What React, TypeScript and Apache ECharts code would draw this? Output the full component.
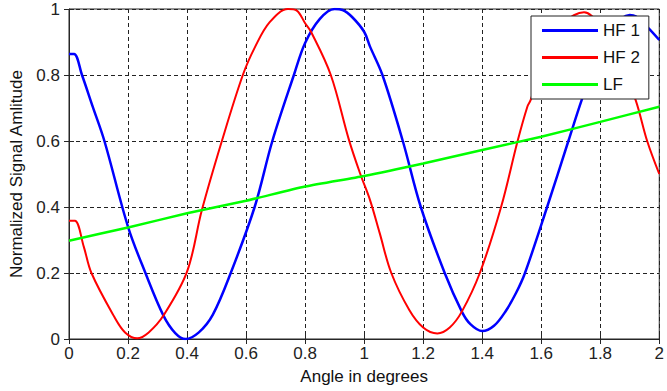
import React, { useEffect, useRef } from "react";
import * as echarts from "echarts";

const seriesNames = ["HF 1", "HF 2", "LF"];

const hf1X = [0, 0.017, 0.044, 0.08, 0.12, 0.2, 0.259, 0.32, 0.36, 0.395, 0.44, 0.487, 0.548, 0.629, 0.689, 0.762, 0.8, 0.85, 0.9, 0.927, 0.96, 1.0, 1.02, 1.062, 1.131, 1.192, 1.273, 1.331, 1.36, 1.4, 1.44, 1.48, 1.515, 1.545, 1.62, 1.692, 1.737, 1.78, 1.84, 1.9, 1.92, 1.96, 2.0];
const hf1Y = [0.864, 0.864, 0.8, 0.705, 0.6, 0.34, 0.2, 0.071, 0.018, 0.0, 0.02, 0.073, 0.2, 0.4, 0.6, 0.8, 0.897, 0.97, 1.0, 0.997, 0.975, 0.931, 0.886, 0.8, 0.6, 0.4, 0.2, 0.083, 0.045, 0.024, 0.04, 0.085, 0.14, 0.2, 0.4, 0.6, 0.724, 0.83, 0.94, 0.982, 0.978, 0.945, 0.906];

const hf2X = [0, 0.02, 0.05, 0.076, 0.153, 0.19, 0.231, 0.27, 0.32, 0.4, 0.45, 0.518, 0.589, 0.631, 0.68, 0.742, 0.772, 0.8, 0.82, 0.887, 0.948, 0.987, 1.02, 1.053, 1.092, 1.153, 1.2, 1.248, 1.29, 1.331, 1.392, 1.464, 1.52, 1.553, 1.564, 1.62, 1.68, 1.745, 1.8, 1.86, 1.92, 1.959, 2.0];
const hf2Y = [0.358, 0.358, 0.28, 0.2, 0.068, 0.02, 0.002, 0.02, 0.071, 0.204, 0.39, 0.6, 0.8, 0.886, 0.96, 1.0, 0.995, 0.957, 0.931, 0.8, 0.605, 0.5, 0.421, 0.32, 0.2, 0.088, 0.035, 0.017, 0.035, 0.083, 0.2, 0.4, 0.6, 0.704, 0.724, 0.87, 0.96, 0.99, 0.95, 0.86, 0.724, 0.6, 0.5];

const lfX = [0, 0.2, 0.4, 0.6, 0.8, 1.0, 1.2, 1.4, 1.6, 1.8, 2.0];
const lfY = [0.298, 0.338, 0.381, 0.419, 0.462, 0.494, 0.532, 0.573, 0.613, 0.658, 0.704];

const xTicks = { min: 0, max: 2, interval: 0.2 };
const yTicks = { min: 0, max: 1, interval: 0.2 };

const FONT = "'Liberation Sans', Arial, sans-serif";

function pairs(xs: number[], ys: number[]) {
  return xs.map((x, i) => [x, ys[i]]);
}

export default function App() {
  const ref = useRef<HTMLDivElement>(null);
  useEffect(() => {
    if (!ref.current) return;
    const chart = echarts.init(ref.current, null, { renderer: "svg" });
    const axisColor = "#262626";
    const grid = { type: [4, 3], color: "#222", width: 1 };
    chart.setOption({
      animation: false,
      backgroundColor: "#fff",
      grid: {
        left: 64,
        right: 3,
        top: 9,
        bottom: 52,
        show: true,
        borderColor: axisColor,
        borderWidth: 1,
        backgroundColor: "#fff",
      },
      legend: {
        orient: "vertical",
        left: 531,
        top: 16,
        icon: "rect",
        itemWidth: 56,
        itemHeight: 3,
        itemGap: 10,
        padding: [6, 9, 6, 11],
        borderColor: "#222",
        borderWidth: 1,
        backgroundColor: "#fff",
        textStyle: { fontFamily: FONT, fontSize: 17, color: "#111" },
        data: seriesNames,
      },
      xAxis: [
        {
          type: "value",
          ...xTicks,
          name: "Angle in degrees",
          nameLocation: "middle",
          nameGap: 29,
          nameTextStyle: { fontFamily: FONT, fontSize: 17, color: "#111" },
          axisLine: { show: true, lineStyle: { color: axisColor, width: 1 } },
          axisTick: { show: true, inside: true, length: 5, lineStyle: { color: axisColor } },
          axisLabel: { fontFamily: FONT, fontSize: 17, color: "#222", margin: 6 },
          splitLine: { show: true, lineStyle: grid },
        },
        {
          type: "value",
          position: "top",
          ...xTicks,
          axisLine: { show: false },
          axisTick: { show: true, inside: true, length: 5, lineStyle: { color: axisColor } },
          axisLabel: { show: false },
          splitLine: { show: false },
        },
      ],
      yAxis: [
        {
          type: "value",
          ...yTicks,
          name: "Normalized Signal Amlitude",
          nameLocation: "middle",
          nameGap: 44,
          nameTextStyle: { fontFamily: FONT, fontSize: 17, color: "#111" },
          axisLine: { show: true, lineStyle: { color: axisColor, width: 1 } },
          axisTick: { show: true, inside: true, length: 5, lineStyle: { color: axisColor } },
          axisLabel: { fontFamily: FONT, fontSize: 17, color: "#222", margin: 9 },
          splitLine: { show: true, lineStyle: grid },
        },
        {
          type: "value",
          position: "right",
          ...yTicks,
          axisLine: { show: false },
          axisTick: { show: true, inside: true, length: 5, lineStyle: { color: axisColor } },
          axisLabel: { show: false },
          splitLine: { show: false },
        },
      ],
      series: [
        {
          name: seriesNames[0],
          type: "line",
          data: pairs(hf1X, hf1Y),
          showSymbol: false,
          symbol: "none",
          smooth: 0.35,
          color: "#0000ff",
          lineStyle: { width: 2.5, color: "#0000ff" },
          z: 2,
        },
        {
          name: seriesNames[1],
          type: "line",
          data: pairs(hf2X, hf2Y),
          showSymbol: false,
          symbol: "none",
          smooth: 0.35,
          color: "#ff0000",
          lineStyle: { width: 2, color: "#ff0000" },
          z: 3,
        },
        {
          name: seriesNames[2],
          type: "line",
          data: pairs(lfX, lfY),
          showSymbol: false,
          symbol: "none",
          smooth: 0.2,
          color: "#00ff00",
          lineStyle: { width: 2.5, color: "#00ff00" },
          z: 4,
        },
      ],
    });
    return () => chart.dispose();
  }, []);
  return (
    <div
      ref={ref}
      style={{ position: "fixed", left: 0, top: 0, width: 667, height: 391 }}
    />
  );
}
